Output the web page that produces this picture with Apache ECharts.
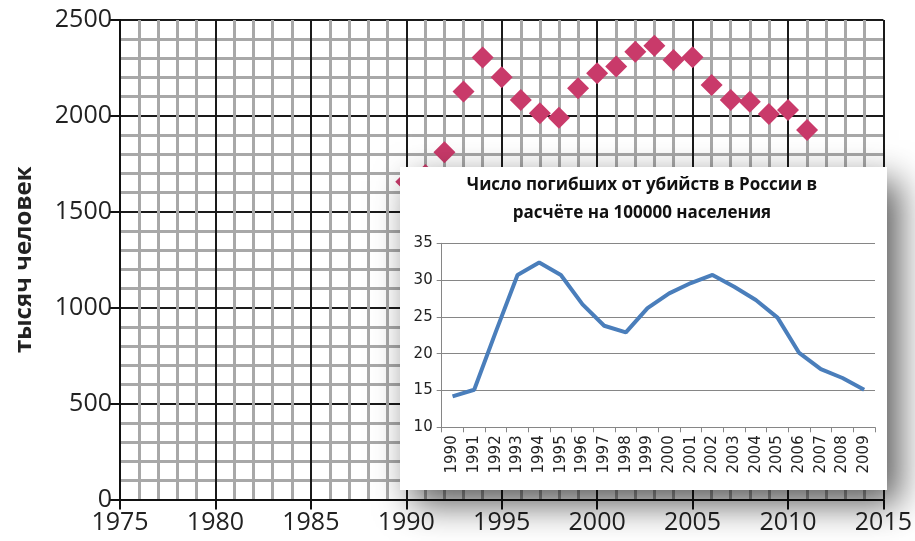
<!DOCTYPE html>
<html>
<head>
<meta charset="utf-8">
<script src="https://cdn.jsdelivr.net/npm/echarts@6/dist/echarts.min.js"></script>
<style>
  html, body { margin: 0; padding: 0; background: #fff; }
  #main { width: 915px; height: 541px; }
</style>
</head>
<body>
<div id="main"></div>
<script>
// общая смертность, тыс. человек
var deathYears = [1990, 1991, 1992, 1993, 1994, 1995, 1996, 1997, 1998, 1999, 2000,
  2001, 2002, 2003, 2004, 2005, 2006, 2007, 2008, 2009, 2010, 2011];
var deaths = [1657, 1692, 1810, 2127, 2305, 2201, 2083, 2014, 1991, 2144, 2222,
  2257, 2335, 2366, 2292, 2306, 2161, 2083, 2074, 2010, 2031, 1927];

// убийства на 100000 населения (врезка)
var murderYears = ['1990', '1991', '1992', '1993', '1994', '1995', '1996', '1997', '1998', '1999',
  '2000', '2001', '2002', '2003', '2004', '2005', '2006', '2007', '2008', '2009'];
var murderRate = [14.2, 15.1, 23.0, 30.7, 32.4, 30.7, 26.7, 23.8, 22.9, 26.2,
  28.2, 29.6, 30.7, 29.1, 27.3, 24.9, 20.1, 17.9, 16.7, 15.1];

var insetTitle = 'Число погибших от убийств в России в\nрасчёте на 100000 населения';

var scatterData = [];
for (var i = 0; i < deathYears.length; i++) {
  scatterData.push([deathYears[i], deaths[i]]);
}

function plain(v) { return String(v); }

var myChart = echarts.init(document.getElementById('main'));
var option = {
  animation: false,
  textStyle: { fontFamily: 'Open Sans' },
  grid: [
    { left: 120, top: 20, right: 31, bottom: 41.5 },
    { left: 441.7, top: 243.3, right: 40, bottom: 113.7 }
  ],
  xAxis: [
    {
      gridIndex: 0,
      type: 'value',
      min: 1975,
      max: 2015,
      interval: 5,
      axisLine: { show: true, lineStyle: { color: '#111', width: 2 } },
      axisTick: { show: true, length: 10, lineStyle: { color: '#111', width: 2 } },
      axisLabel: { fontSize: 25, color: '#222', margin: 11, fontFamily: 'Open Sans', formatter: plain },
      splitLine: { show: true, lineStyle: { color: '#1a1a1a', width: 2 } },
      minorTick: { show: false, splitNumber: 5 },
      minorSplitLine: { show: true, lineStyle: { color: '#a8a8a8', width: 3 } }
    },
    {
      gridIndex: 1,
      type: 'category',
      data: murderYears,
      boundaryGap: true,
      z: 10,
      axisLine: { show: true, lineStyle: { color: '#868686', width: 1 } },
      axisTick: { show: true, length: 5, interval: 0, lineStyle: { color: '#868686' } },
      axisLabel: { interval: 0, rotate: 90, fontSize: 15, color: '#222', margin: 8, fontFamily: 'DejaVu Sans' },
      splitLine: { show: false }
    }
  ],
  yAxis: [
    {
      gridIndex: 0,
      type: 'value',
      min: 0,
      max: 2500,
      interval: 500,
      name: 'тысяч человек',
      nameLocation: 'middle',
      nameGap: 84,
      nameTextStyle: { fontSize: 24, fontWeight: 'bold', color: '#222', fontFamily: 'Open Sans' },
      axisLine: { show: true, lineStyle: { color: '#111', width: 2 } },
      axisTick: { show: true, length: 10, lineStyle: { color: '#111', width: 2 } },
      axisLabel: { fontSize: 25, color: '#222', margin: 8, fontFamily: 'Open Sans', formatter: plain },
      splitLine: { show: true, lineStyle: { color: '#1a1a1a', width: 2 } },
      minorTick: { show: false, splitNumber: 5 },
      minorSplitLine: { show: true, lineStyle: { color: '#a8a8a8', width: 3 } }
    },
    {
      gridIndex: 1,
      type: 'value',
      min: 10,
      max: 35,
      interval: 5,
      z: 10,
      axisLine: { show: true, lineStyle: { color: '#868686', width: 1 } },
      axisTick: { show: true, length: 5, lineStyle: { color: '#868686' } },
      axisLabel: { fontSize: 15, color: '#222', margin: 9, fontFamily: 'DejaVu Sans' },
      splitLine: { show: true, lineStyle: { color: '#868686', width: 1 } }
    }
  ],
  graphic: [
    {
      type: 'rect',
      z: 5,
      shape: { x: 400, y: 167, width: 487, height: 323 },
      style: {
        fill: '#fff',
        shadowBlur: 34,
        shadowOffsetX: 12,
        shadowOffsetY: 14,
        shadowColor: 'rgba(0,0,0,0.65)'
      }
    },
    {
      type: 'text',
      z: 12,
      x: 642,
      y: 171,
      style: {
        text: insetTitle,
        textAlign: 'center',
        fill: '#111',
        font: 'bold 17px "Open Sans"',
        lineHeight: 28
      }
    }
  ],
  series: [
    {
      name: 'deaths',
      type: 'scatter',
      xAxisIndex: 0,
      yAxisIndex: 0,
      symbol: 'diamond',
      symbolSize: 22,
      itemStyle: { color: '#c93a6a', opacity: 1 },
      data: scatterData,
      z: 2
    },
    {
      name: 'murders',
      type: 'line',
      xAxisIndex: 1,
      yAxisIndex: 1,
      showSymbol: false,
      symbol: 'none',
      lineStyle: { color: '#4a7ebb', width: 4 },
      data: murderRate,
      z: 11
    }
  ]
};

option && myChart.setOption(option);
</script>
</body>
</html>
